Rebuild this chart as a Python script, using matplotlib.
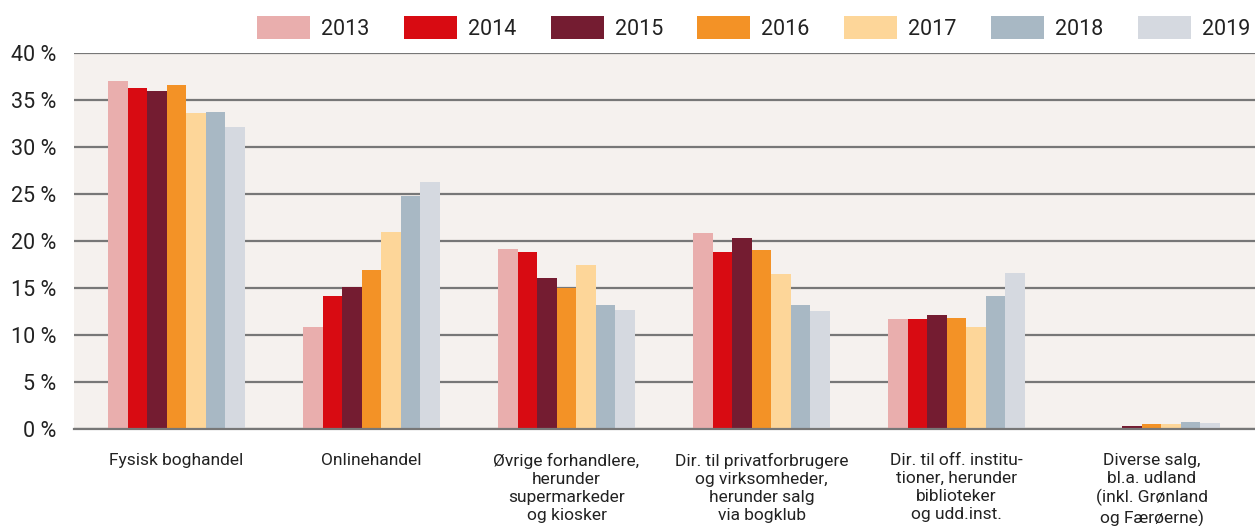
import matplotlib
matplotlib.use("Agg")
import matplotlib.pyplot as plt
import numpy as np

plt.rcParams['font.family'] = ['Roboto', 'DejaVu Sans']

categories = [
    "Fysisk boghandel",
    "Onlinehandel",
    "Øvrige forhandlere,\nherunder\nsupermarkeder\nog kiosker",
    "Dir. til privatforbrugere\nog virksomheder,\nherunder salg\nvia bogklub",
    "Dir. til off. institu-\ntioner, herunder\nbiblioteker\nog udd.inst.",
    "Diverse salg,\nbl.a. udland\n(inkl. Grønland\nog Færøerne)",
]
years = ["2013", "2014", "2015", "2016", "2017", "2018", "2019"]
colors = ["#E9AEAD", "#D80B12", "#741C31", "#F39226", "#FDD699", "#A8B8C4", "#D5D9E0"]

v2013 = [37.0, 10.85, 19.15, 20.85, 11.7, 0.07]
v2014 = [36.3, 14.15, 18.8, 18.8, 11.7, 0.1]
v2015 = [36.0, 15.1, 16.05, 20.3, 12.1, 0.3]
v2016 = [36.6, 16.9, 15.0, 19.05, 11.8, 0.5]
v2017 = [33.6, 20.95, 17.45, 16.5, 10.85, 0.5]
v2018 = [33.8, 24.8, 13.2, 13.2, 14.15, 0.75]
v2019 = [32.1, 26.3, 12.65, 12.55, 16.6, 0.65]
series = [v2013, v2014, v2015, v2016, v2017, v2018, v2019]

yticks = [0, 5, 10, 15, 20, 25, 30, 35, 40]
ytick_labels = [f"{t} %" for t in yticks]

fig = plt.figure(figsize=(12.55, 5.26), dpi=100)
ax = fig.add_axes([0.059, 0.1844, 0.941, 0.7143])
ax.set_facecolor("#F5F1EE")

x = np.arange(len(categories))
w = 0.1
for i, (yr, vals, c) in enumerate(zip(years, series, colors)):
    ax.bar(x + (i - 3) * w, vals, width=w, color=c, label=yr, zorder=3, linewidth=0)

ax.set_xlim(-0.525, 5.53)
ax.set_ylim(0, 40)
ax.set_yticks(yticks)
ax.set_yticklabels(ytick_labels, fontsize=15.5, color="#222222")
ax.set_xticks(x)
ax.set_xticklabels(categories, fontsize=12.5, color="#222222", linespacing=1.25, va="top")
ax.tick_params(axis="both", length=0)
ax.tick_params(axis="y", pad=13)
ax.tick_params(axis="x", pad=17)
ax.yaxis.grid(True, color="#777777", linewidth=1.6, zorder=1)
ax.set_axisbelow(True)
for s in ["top", "right", "left"]:
    ax.spines[s].set_visible(False)
ax.spines["bottom"].set_color("#777777")
ax.spines["bottom"].set_linewidth(1.6)
ax.spines["bottom"].set_zorder(4)

leg = fig.legend(loc="upper right", bbox_to_anchor=(1.007, 0.997), ncol=7, frameon=False,
                 fontsize=15.5, handlelength=2.46, handleheight=1.3,
                 handletextpad=0.51, columnspacing=1.6, borderaxespad=0.35,
                 borderpad=0.3)
for t in leg.get_texts():
    t.set_color("#222222")

fig.savefig("out.png", dpi=100)
